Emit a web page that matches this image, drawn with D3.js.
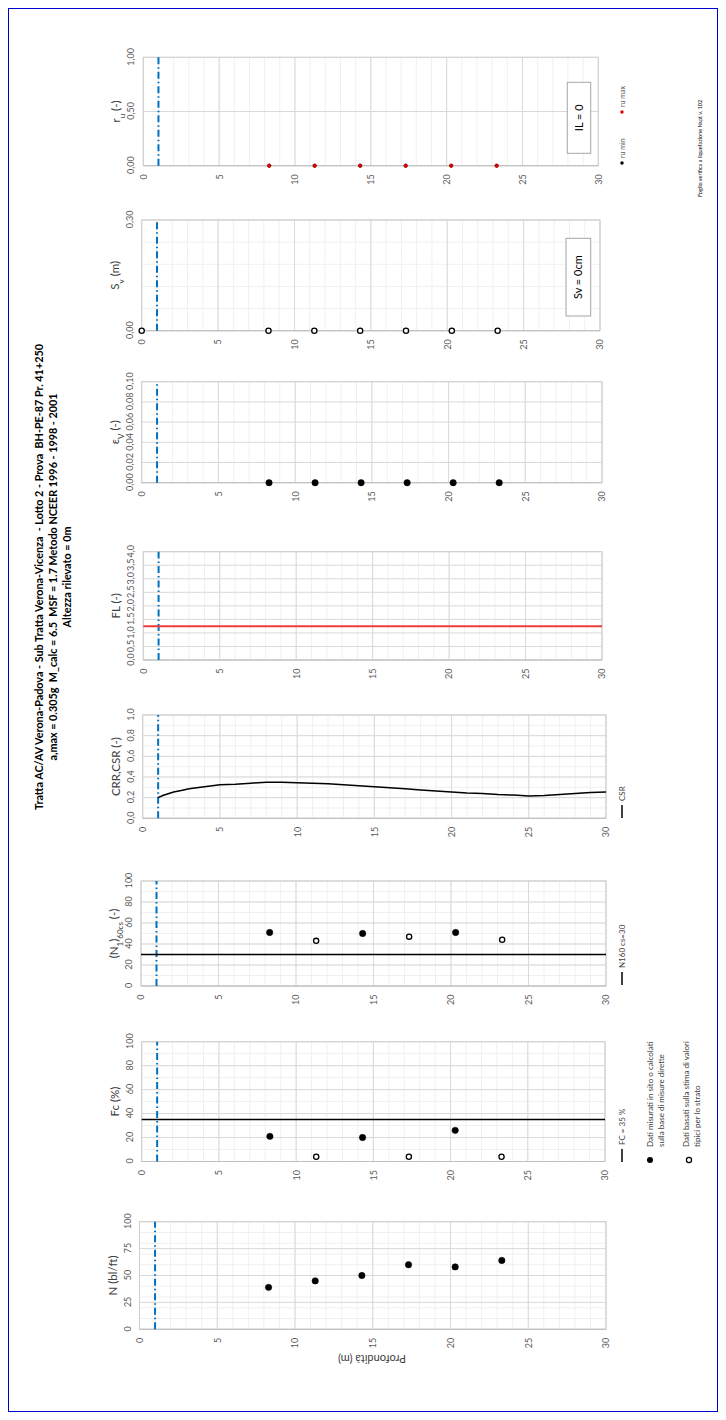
<!DOCTYPE html>
<html>
<head>
<meta charset="utf-8">
<script src="https://cdnjs.cloudflare.com/ajax/libs/d3/7.8.5/d3.min.js"></script>
<style>
body{margin:0;background:#fff;}
svg{display:block;font-family:Lato,"Open Sans",sans-serif;}
.ttl{white-space:pre;}
</style>
</head>
<body>
<div id="chart"></div>
<script>
// SPT test depths (m) and blow counts
var sptDepth = [8.3, 11.3, 14.3, 17.3, 20.3, 23.3];
var nSpt = [39, 45, 50, 60, 58, 64];

// fines content: measured (filled) / estimated (open)
var fcMeasDepth = [8.3, 14.3, 20.3];
var fcMeas = [21, 20, 26];
var fcEstDepth = [11.3, 17.3, 23.3];
var fcEst = [4, 4, 4];

// (N1)60cs
var n1MeasDepth = [8.3, 14.3, 20.3];
var n1Meas = [51, 50, 51];
var n1EstDepth = [11.3, 17.3, 23.3];
var n1Est = [43, 47, 44];

// CSR profile
var csrDepth = [1, 1.3, 1.7, 2, 2.5, 3, 3.5, 4, 4.5, 5, 6, 7, 8, 9, 10, 11, 12, 13, 14, 15, 16, 17, 18, 19, 20, 21, 22, 23, 24, 25, 26, 27, 28, 29, 30];
var csrValues = [0.20, 0.22, 0.24, 0.255, 0.27, 0.285, 0.295, 0.305, 0.315, 0.325, 0.33, 0.34, 0.35, 0.35, 0.345, 0.34, 0.335, 0.325, 0.315, 0.305, 0.295, 0.285, 0.275, 0.265, 0.255, 0.245, 0.24, 0.23, 0.225, 0.215, 0.22, 0.23, 0.24, 0.25, 0.255];

var epsV = [0, 0, 0, 0, 0, 0];
var svDepth = [0, 8.3, 11.3, 14.3, 17.3, 20.3, 23.3];
var sv = [0, 0, 0, 0, 0, 0, 0];
var ruMin = [0, 0, 0, 0, 0, 0];
var ruMax = [0, 0, 0, 0, 0, 0];

var fcLimit = 35;
var n1Limit = 30;
var flLimit = 1.25;
var waterDepth = 1.0;
var depthTicks = [0, 5, 10, 15, 20, 25, 30];

var titleLines = [
  "Tratta AC/AV Verona-Padova - Sub Tratta Verona-Vicenza  - Lotto 2 - Prova  BH-PE-87 Pr. 41+250",
  "a,max = 0.305g  M_calc = 6.5  MSF = 1.7 Metodo NCEER 1996 - 1998 - 2001",
  "Altezza rilevato = 0m"
];

// the sheet is landscape, turned to fit the portrait page
var W = 726, H = 1420;
var svg = d3.select("#chart").append("svg").attr("width", W).attr("height", H);

svg.append("rect")
  .attr("x", 8.5).attr("y", 8.5)
  .attr("width", 709).attr("height", 1403)
  .attr("fill", "none").attr("stroke", "#0000cc").attr("stroke-width", 1);

var g = svg.append("g").attr("transform", "translate(0," + H + ") rotate(-90)");

var panels = [
  {id: "n", x0: 90.7, x1: 198.3, y0: 139.5, y1: 606, domain: [0, 100], ticks: [0, 25, 50, 75, 100], major: d3.range(0, 101, 25), minor: d3.range(0, 101, 10), fmt: d3.format("d")},
  {id: "fc", x0: 258.5, x1: 378.3, y0: 141.7, y1: 605, domain: [0, 100], ticks: d3.range(0, 101, 20), major: d3.range(0, 101, 20), minor: d3.range(0, 101, 10), fmt: d3.format("d")},
  {id: "n1", x0: 434, x1: 539, y0: 141, y1: 606, domain: [0, 100], ticks: d3.range(0, 101, 20), major: d3.range(0, 101, 20), minor: d3.range(0, 101, 10), fmt: d3.format("d")},
  {id: "csr", x0: 601.7, x1: 705, y0: 142.7, y1: 606, domain: [0, 1], ticks: d3.range(0, 1.01, 0.2), major: d3.range(0, 1.01, 0.2), minor: d3.range(0, 1.01, 0.1), fmt: d3.format(".1f")},
  {id: "fl", x0: 760, x1: 868.3, y0: 143.3, y1: 602, domain: [0, 4], ticks: d3.range(0, 4.01, 0.5), major: d3.range(0, 4.01, 0.5), minor: [], fmt: d3.format(".1f")},
  {id: "ev", x0: 937.3, x1: 1038.3, y0: 141.7, y1: 602, domain: [0, 0.1], ticks: d3.range(0, 0.101, 0.02), major: d3.range(0, 0.101, 0.02), minor: [], fmt: d3.format(".2f")},
  {id: "sv", x0: 1089.3, x1: 1200, y0: 141.7, y1: 600, domain: [0, 0.3], ticks: [0, 0.3], major: [0, 0.3], minor: d3.range(0, 0.301, 0.06), fmt: d3.format(".2f")},
  {id: "ru", x0: 1254.3, x1: 1362.7, y0: 143.3, y1: 598.3, domain: [0, 1], ticks: [0, 0.5, 1], major: [0, 0.5, 1], minor: [], fmt: d3.format(".2f")}
];

var titles = {
  n: [["N (bl/ft)"]],
  fc: [["Fc (%)"]],
  n1: [["(N"], ["1", "sub"], [")"], ["60cs", "sub"], [" (-)"]],
  csr: [["CRR,CSR (-)"]],
  fl: [["FL (-)"]],
  ev: [["ε"], ["V", "sub"], [" (-)"]],
  sv: [["S"], ["v", "sub"], [" (m)"]],
  ru: [["r"], ["u", "sub"], [" (-)"]]
};

var sc = {};

panels.forEach(function(p) {
  var x = d3.scaleLinear().domain(p.domain).range([p.x0, p.x1]);
  var y = d3.scaleLinear().domain([0, 30]).range([p.y0, p.y1]);
  sc[p.id] = {x: x, y: y, p: p};
  var pg = g.append("g").attr("class", "panel-" + p.id);

  // minor grid
  pg.selectAll(".dmin").data(d3.range(0, 31)).enter().append("line")
    .attr("x1", p.x0).attr("x2", p.x1)
    .attr("y1", function(d) { return y(d); }).attr("y2", function(d) { return y(d); })
    .attr("stroke", "#f0f0f0").attr("stroke-width", 1);
  pg.selectAll(".vmin").data(p.minor).enter().append("line")
    .attr("x1", function(d) { return x(d); }).attr("x2", function(d) { return x(d); })
    .attr("y1", p.y0).attr("y2", p.y1)
    .attr("stroke", "#f0f0f0").attr("stroke-width", 1);
  // major grid
  pg.selectAll(".dmaj").data(depthTicks).enter().append("line")
    .attr("x1", p.x0).attr("x2", p.x1)
    .attr("y1", function(d) { return y(d); }).attr("y2", function(d) { return y(d); })
    .attr("stroke", "#d9d9d9").attr("stroke-width", 1);
  pg.selectAll(".vmaj").data(p.major).enter().append("line")
    .attr("x1", function(d) { return x(d); }).attr("x2", function(d) { return x(d); })
    .attr("y1", p.y0).attr("y2", p.y1)
    .attr("stroke", "#d9d9d9").attr("stroke-width", 1);
  pg.append("rect")
    .attr("x", p.x0).attr("y", p.y0)
    .attr("width", p.x1 - p.x0).attr("height", p.y1 - p.y0)
    .attr("fill", "none").attr("stroke", "#d0d0d0");
  pg.append("line")
    .attr("x1", p.x0).attr("x2", p.x0).attr("y1", p.y0).attr("y2", p.y1)
    .attr("stroke", "#bfbfbf");

  // axes
  var xa = pg.append("g").attr("transform", "translate(0," + p.y0 + ")")
    .call(d3.axisTop(x).tickValues(p.ticks).tickSize(0).tickPadding(9)
      .tickFormat(function(d) { return p.fmt(d).replace(".", ","); }));
  var ya = pg.append("g").attr("transform", "translate(" + p.x0 + ",0)")
    .call(d3.axisLeft(y).tickValues(depthTicks).tickSize(0).tickPadding(8.5).tickFormat(d3.format("d")));
  [xa, ya].forEach(function(a) {
    a.select(".domain").remove();
    a.attr("font-family", null).attr("font-size", null);
    a.selectAll("text").attr("fill", "#595959").style("font-size", "9px");
  });

  // axis title
  var t = pg.append("text")
    .attr("x", (p.x0 + p.x1) / 2).attr("y", p.y0 - 23)
    .attr("text-anchor", "middle")
    .style("font-size", "11.5px").attr("fill", "#404040");
  titles[p.id].forEach(function(s) {
    var ts = t.append("tspan").text(s[0]);
    if (s[1] == "sub") ts.attr("baseline-shift", "sub").style("font-size", "8px");
  });

  // water table
  pg.append("line")
    .attr("x1", p.x0).attr("x2", p.x1)
    .attr("y1", y(waterDepth)).attr("y2", y(waterDepth))
    .attr("stroke", "#0070c0").attr("stroke-width", 2)
    .attr("stroke-dasharray", "7,3,1.5,3");
});

// depth title under first panel
g.append("text")
  .attr("transform", "translate(65,372) rotate(-90)")
  .attr("text-anchor", "middle")
  .style("font-size", "11px").attr("fill", "#404040")
  .text("Profondità (m)");

function dots(s, depths, vals, filled, r, color) {
  g.append("g").selectAll("circle").data(vals).enter().append("circle")
    .attr("cx", function(d) { return s.x(d); })
    .attr("cy", function(d, i) { return s.y(depths[i]); })
    .attr("r", r)
    .attr("fill", filled ? color : "#fff")
    .attr("stroke", color).attr("stroke-width", filled ? 0.5 : 1.3);
}

function vline(s, v, color, w) {
  g.append("line")
    .attr("x1", s.x(v)).attr("x2", s.x(v))
    .attr("y1", s.p.y0).attr("y2", s.p.y1)
    .attr("stroke", color).attr("stroke-width", w);
}

dots(sc.n, sptDepth, nSpt, true, 3.2, "#000");

vline(sc.fc, fcLimit, "#000", 1.5);
dots(sc.fc, fcMeasDepth, fcMeas, true, 3.2, "#000");
dots(sc.fc, fcEstDepth, fcEst, false, 2.6, "#000");

vline(sc.n1, n1Limit, "#000", 1.5);
dots(sc.n1, n1MeasDepth, n1Meas, true, 3.2, "#000");
dots(sc.n1, n1EstDepth, n1Est, false, 2.6, "#000");

var csrLine = d3.line()
  .x(function(d) { return sc.csr.x(d); })
  .y(function(d, i) { return sc.csr.y(csrDepth[i]); });
g.append("path").attr("d", csrLine(csrValues))
  .attr("fill", "none").attr("stroke", "#000").attr("stroke-width", 1.5);

vline(sc.fl, flLimit, "#f03c3c", 2);

dots(sc.ev, sptDepth, epsV, true, 3.2, "#000");
dots(sc.sv, svDepth, sv, false, 2.6, "#000");
dots(sc.ru, sptDepth, ruMin, true, 1.7, "#000");
dots(sc.ru, sptDepth, ruMax, true, 1.7, "#e00000");

// value boxes
function box(x0, x1, y0, y1, txt) {
  g.append("rect").attr("x", x0).attr("y", y0)
    .attr("width", x1 - x0).attr("height", y1 - y0)
    .attr("fill", "#fff").attr("stroke", "#a6a6a6");
  g.append("text").attr("x", (x0 + x1) / 2).attr("y", (y0 + y1) / 2)
    .attr("dy", "0.35em").attr("text-anchor", "middle")
    .style("font-size", "11px").text(txt);
}
box(1266.7, 1337.7, 567.3, 590.7, "IL = 0");
box(1104, 1181.7, 566, 590.7, "Sv = 0cm");

// legends
function legLine(x, txt) {
  g.append("line").attr("x1", x).attr("x2", x + 13).attr("y1", 622).attr("y2", 622)
    .attr("stroke", "#000").attr("stroke-width", 1.5);
  g.append("text").attr("x", x + 17).attr("y", 625).style("font-size", "8px").attr("fill", "#404040").text(txt);
}
legLine(258, "FC = 35 %");
legLine(435, "N160 cs=30");
legLine(602, "CSR");

g.append("circle").attr("cx", 260).attr("cy", 650).attr("r", 3).attr("fill", "#000");
g.append("text").attr("x", 273).attr("y", 653).style("font-size", "8px").attr("fill", "#404040").text("Dati misurati in sito o calcolati");
g.append("text").attr("x", 273).attr("y", 664).style("font-size", "8px").attr("fill", "#404040").text("sulla base di misure dirette");
g.append("circle").attr("cx", 260).attr("cy", 689).attr("r", 2.6).attr("fill", "#fff").attr("stroke", "#000").attr("stroke-width", 1.2);
g.append("text").attr("x", 273).attr("y", 689).style("font-size", "8px").attr("fill", "#404040").text("Dati basati sulla stima di valori");
g.append("text").attr("x", 273).attr("y", 700).style("font-size", "8px").attr("fill", "#404040").text("tipici per lo strato");

g.append("circle").attr("cx", 1257).attr("cy", 622).attr("r", 1.7).attr("fill", "#000");
g.append("text").attr("x", 1262).attr("y", 625).style("font-size", "7px").attr("fill", "#595959").text("ru min");
g.append("circle").attr("cx", 1308).attr("cy", 622).attr("r", 1.7).attr("fill", "#e00000");
g.append("text").attr("x", 1313).attr("y", 625).style("font-size", "7px").attr("fill", "#595959").text("ru max");

g.append("text").attr("x", 1223).attr("y", 702).style("font-size", "5.5px").text("Foglio verifica a liquefazione Nspt v. 102");

// title
g.selectAll(".ttl").data(titleLines).enter().append("text")
  .attr("class", "ttl")
  .attr("x", 843).attr("y", function(d, i) { return 43 + i * 14; })
  .attr("text-anchor", "middle")
  .style("font-size", "10.8px").style("font-weight", "bold")
  .text(function(d) { return d; });
</script>
</body>
</html>
